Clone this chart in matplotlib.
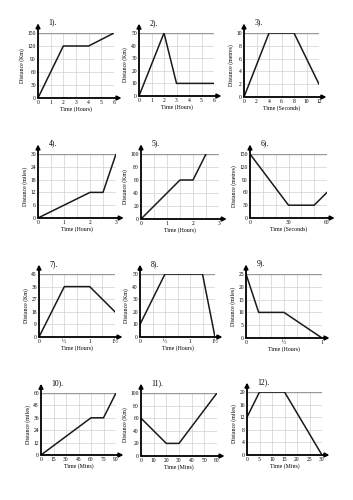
import matplotlib
matplotlib.use("Agg")
import matplotlib.pyplot as plt

plt.rcParams['font.family'] = ['Liberation Serif', 'DejaVu Serif']

# data for each graph: time points, distance points
t1 = [0, 2, 4, 6];          d1 = [0, 120, 120, 150]
t2 = [0, 2, 3, 6];          d2 = [0, 50, 10, 10]
t3 = [0, 4, 8, 12];         d3 = [0, 10, 10, 2]
t4 = [0, 2, 2.5, 3];        d4 = [0, 12, 12, 30]
t5 = [0, 1.5, 2, 2.5];      d5 = [0, 60, 60, 100]
t6 = [0, 30, 50, 60];       d6 = [150, 30, 30, 60]
t7 = [0, 0.5, 1, 1.5];      d7 = [0, 36, 36, 18]
t8 = [0, 0.5, 1.25, 1.5];   d8 = [10, 50, 50, 0]
t9 = [0, 1/6, 0.5, 1];      d9 = [25, 10, 10, 0]
t10 = [0, 60, 75, 90];      d10 = [0, 36, 36, 60]
t11 = [0, 20, 30, 60];      d11 = [60, 20, 20, 100]
t12 = [0, 5, 15, 30];       d12 = [12, 20, 20, 0]

xt1 = [0, 1, 2, 3, 4, 5, 6]; yt1 = [0, 30, 60, 90, 120, 150]
xt2 = [0, 1, 2, 3, 4, 5, 6]; yt2 = [0, 10, 20, 30, 40, 50]
xt3 = [0, 2, 4, 6, 8, 10, 12]; yt3 = [0, 2, 4, 6, 8, 10]
xt4 = [0, 1, 2, 3]; yt4 = [0, 6, 12, 18, 24, 30]
xt5 = [0, 1, 2, 3]; yt5 = [0, 20, 40, 60, 80, 100]
xt6 = [0, 30, 60]; yt6 = [0, 30, 60, 90, 120, 150]
xt7 = [0, 0.5, 1, 1.5]; yt7 = [0, 9, 18, 27, 36, 45]
xt8 = [0, 0.5, 1, 1.5]; yt8 = [0, 10, 20, 30, 40, 50]
xt9 = [0, 0.5, 1]; yt9 = [0, 5, 10, 15, 20, 25]
xt10 = [0, 15, 30, 45, 60, 75, 90]; yt10 = [0, 12, 24, 36, 48, 60]
xt11 = [0, 10, 20, 30, 40, 50, 60]; yt11 = [0, 20, 40, 60, 80, 100]
xt12 = [0, 5, 10, 15, 20, 25, 30]; yt12 = [0, 4, 8, 12, 16, 20]

frac = {0.5: '½', 1.5: '1½'}

# (title, t, d, xticks, yticks, xgrid step, ylabel, xlabel, pixel box l, t, r, b)
graphs = [
    ('1).', t1, d1, xt1, yt1, 1, 'Distance (Km)', 'Time (Hours)', (38, 33, 114, 98)),
    ('2).', t2, d2, xt2, yt2, 1, 'Distance (Km)', 'Time (Hours)', (139, 33, 214, 96)),
    ('3).', t3, d3, xt3, yt3, 2, 'Distance (metres)', 'Time (Seconds)', (244, 33, 319, 97)),
    ('4).', t4, d4, xt4, yt4, 0.5, 'Distance (miles)', 'Time (Hours)', (38, 154, 116, 218)),
    ('5).', t5, d5, xt5, yt5, 0.5, 'Distance (Km)', 'Time (Hours)', (141, 154, 219, 219)),
    ('6).', t6, d6, xt6, yt6, 10, 'Distance (metres)', 'Time (Seconds)', (250, 154, 327, 218)),
    ('7).', t7, d7, xt7, yt7, 0.25, 'Distance (Km)', 'Time (Hours)', (39, 274, 115, 337)),
    ('8).', t8, d8, xt8, yt8, 0.25, 'Distance (Km)', 'Time (Hours)', (140, 274, 215, 337)),
    ('9).', t9, d9, xt9, yt9, 1/6, 'Distance (miles)', 'Time (Hours)', (246, 274, 322, 338)),
    ('10).', t10, d10, xt10, yt10, 15, 'Distance (miles)', 'Time (Mins)', (41, 393, 116, 455)),
    ('11).', t11, d11, xt11, yt11, 10, 'Distance (Km)', 'Time (Mins)', (141, 393, 217, 456)),
    ('12).', t12, d12, xt12, yt12, 5, 'Distance (miles)', 'Time (Mins)', (247, 392, 322, 455)),
]

W, H = 353, 500
fig = plt.figure(figsize=(W / 100, H / 100), dpi=100)

for title, t, d, xt, yt, xs, ylab, xlab, box in graphs:
    l, tp, r, b = box
    ax = fig.add_axes([l / W, 1 - b / H, (r - l) / W, (b - tp) / H])
    xmax, ymax = xt[-1], yt[-1]
    ax.set_xlim(0, xmax)
    ax.set_ylim(0, ymax)
    # grid
    n = int(round(xmax / xs))
    for i in range(1, n + 1):
        ax.axvline(i * xs, color='#d0d0d0', lw=0.5, zorder=0)
    for y in yt[1:-1]:
        ax.axhline(y, color='#d0d0d0', lw=0.5, zorder=0)
    ax.axhline(ymax, color='#999999', lw=1.0, zorder=1)
    ax.plot(t, d, color='#1a1a1a', lw=1.1, zorder=3)
    ax.set_xticks(xt)
    ax.set_xticklabels([frac.get(v, '%g' % v) for v in xt])
    ax.set_yticks(yt)
    ax.set_yticklabels(['%g' % v for v in yt])
    ax.tick_params(length=0, labelsize=4, pad=1.5)
    for s in ['top', 'right', 'left', 'bottom']:
        ax.spines[s].set_visible(False)
    ax.annotate('', xy=(1.1, 0), xytext=(0, 0), xycoords='axes fraction',
                arrowprops=dict(arrowstyle='-|>', color='black', lw=1.3,
                                mutation_scale=6, shrinkA=0, shrinkB=0),
                annotation_clip=False)
    ax.annotate('', xy=(0, 1.15), xytext=(0, 0), xycoords='axes fraction',
                arrowprops=dict(arrowstyle='-|>', color='black', lw=1.3,
                                mutation_scale=6, shrinkA=0, shrinkB=0),
                annotation_clip=False)
    ax.set_xlabel(xlab, fontsize=4.2, labelpad=0.5)
    ax.set_ylabel(ylab, fontsize=4.2, labelpad=2)
    ax.text(0.14, 1.1, title, transform=ax.transAxes, fontsize=5.5,
            ha='left', va='bottom')

fig.savefig('out.png', dpi=100)
